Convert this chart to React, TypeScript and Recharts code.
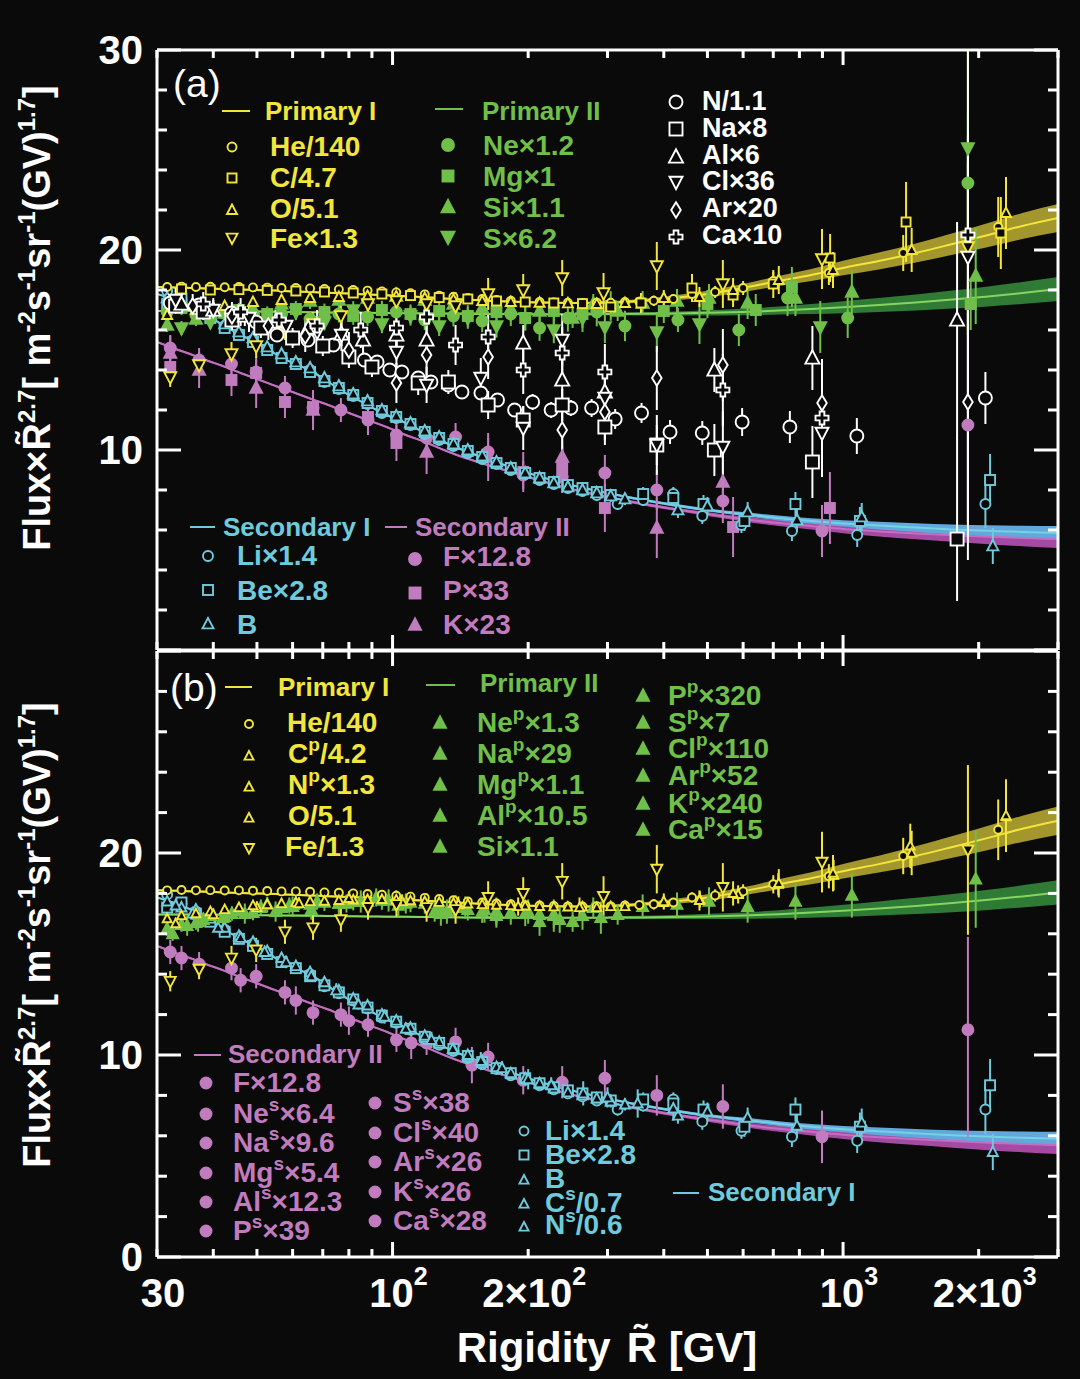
import React from 'react';
import { ComposedChart, XAxis, YAxis, Line, Area, Scatter, ErrorBar } from 'recharts';

const BG = '#0a0a0a';
const YEL = '#f2e63c';
const GRN = '#6fbf48';
const CYN = '#6fcbdc';
const MAG = '#c07cbf';
const WHT = '#ffffff';
const FONT = "'Liberation Sans', Arial, Helvetica, sans-serif";

// ---------- axes ----------
const X_DOMAIN = [30, 3000];
const X_TICKS = [30, 40, 50, 60, 70, 80, 90, 100, 200, 300, 400, 500, 600, 700, 800, 900, 1000, 2000, 3000];
const X_LABELS: Record<number, [string, string]> = {
  30: ['30', ''],
  100: ['10', '2'],
  200: ['2\u00d710', '2'],
  1000: ['10', '3'],
  2000: ['2\u00d710', '3'],
};
const Y_TICKS = [0, 2, 4, 6, 8, 10, 12, 14, 16, 18, 20, 22, 24, 26, 28, 30];
const Y_LABELS_A = [10, 20, 30];
const Y_LABELS_B = [0, 10, 20];

// ---------- fitted curves (rigidity rows) ----------
const LINE_R = [30, 33, 36, 39, 42, 46, 50, 55, 60, 66, 72, 80, 88, 97, 107, 118, 130, 145, 160, 180, 200, 230, 260, 300, 350, 420, 500, 600, 720, 850, 1000, 1200, 1450, 1750, 2100, 2500, 3000];
const P1 = [18.15, 18.13, 18.1, 18.08, 18.05, 18.02, 18.0, 17.97, 17.93, 17.9, 17.86, 17.82, 17.78, 17.74, 17.69, 17.64, 17.58, 17.52, 17.47, 17.42, 17.39, 17.36, 17.35, 17.37, 17.45, 17.6, 17.8, 18.1, 18.45, 18.75, 19.1, 19.45, 19.85, 20.3, 20.75, 21.2, 21.6];
const P1_W = [0.05, 0.05, 0.05, 0.05, 0.05, 0.05, 0.05, 0.05, 0.05, 0.05, 0.05, 0.05, 0.05, 0.05, 0.05, 0.05, 0.05, 0.05, 0.05, 0.05, 0.05, 0.05, 0.05, 0.07, 0.09, 0.12, 0.16, 0.2, 0.25, 0.3, 0.36, 0.42, 0.48, 0.54, 0.6, 0.65, 0.7];
const P2 = [16.95, 16.95, 16.95, 16.95, 16.94, 16.93, 16.92, 16.91, 16.9, 16.89, 16.88, 16.87, 16.86, 16.85, 16.84, 16.83, 16.82, 16.81, 16.8, 16.8, 16.79, 16.79, 16.79, 16.8, 16.81, 16.83, 16.86, 16.9, 16.97, 17.05, 17.14, 17.25, 17.38, 17.52, 17.68, 17.85, 18.05];
const P2_W = [0.05, 0.05, 0.05, 0.05, 0.05, 0.05, 0.05, 0.05, 0.05, 0.05, 0.05, 0.05, 0.05, 0.05, 0.05, 0.05, 0.05, 0.05, 0.05, 0.05, 0.05, 0.05, 0.05, 0.06, 0.08, 0.1, 0.13, 0.16, 0.2, 0.25, 0.3, 0.35, 0.4, 0.45, 0.5, 0.55, 0.6];
const S1 = [17.8, 17.5, 17.15, 16.7, 16.25, 15.75, 15.35, 14.8, 14.35, 13.95, 13.4, 12.75, 12.25, 11.75, 11.35, 10.85, 10.4, 9.95, 9.6, 9.2, 8.85, 8.45, 8.15, 7.85, 7.55, 7.25, 7.0, 6.8, 6.6, 6.45, 6.33, 6.22, 6.12, 6.03, 5.96, 5.9, 5.85];
const S1_W = [0.04, 0.04, 0.04, 0.04, 0.04, 0.04, 0.04, 0.04, 0.04, 0.04, 0.04, 0.04, 0.04, 0.04, 0.04, 0.04, 0.04, 0.04, 0.04, 0.04, 0.04, 0.04, 0.04, 0.05, 0.06, 0.07, 0.08, 0.1, 0.12, 0.14, 0.16, 0.19, 0.22, 0.25, 0.28, 0.31, 0.35];
const S2 = [15.4, 15.05, 14.75, 14.45, 14.2, 13.85, 13.55, 13.2, 12.9, 12.55, 12.25, 11.85, 11.5, 11.15, 10.75, 10.4, 10.0, 9.6, 9.3, 8.95, 8.65, 8.25, 7.95, 7.65, 7.35, 7.05, 6.8, 6.55, 6.35, 6.2, 6.05, 5.93, 5.83, 5.74, 5.66, 5.6, 5.55];
const S2_W = [0.05, 0.05, 0.05, 0.05, 0.05, 0.05, 0.05, 0.05, 0.05, 0.05, 0.05, 0.05, 0.05, 0.05, 0.05, 0.05, 0.05, 0.05, 0.05, 0.05, 0.05, 0.05, 0.05, 0.06, 0.07, 0.08, 0.1, 0.12, 0.15, 0.18, 0.21, 0.25, 0.29, 0.33, 0.37, 0.41, 0.45];

// ---------- measured points: [rigidity, value, error or [lower, upper]] ----------
type Err = number | [number, number];
type Tri = [number, number, Err];
const BINS = [31.6, 34.0, 36.6, 39.4, 42.4, 45.6, 49.0, 52.7, 56.7, 61.0, 65.6, 70.6, 76.0, 81.8, 88.0, 94.7, 101.9, 109.6, 117.9, 126.9, 136.5, 146.9, 158.1, 170.1, 183, 197, 212, 228, 245, 264, 284, 305, 328, 353, 380];
const E_S = [0.1, 0.1, 0.1, 0.1, 0.1, 0.1, 0.1, 0.1, 0.1, 0.1, 0.1, 0.1, 0.1, 0.1, 0.1, 0.1, 0.12, 0.12, 0.12, 0.12, 0.12, 0.12, 0.14, 0.14, 0.15, 0.15, 0.16, 0.17, 0.18, 0.19, 0.2, 0.21, 0.22, 0.24, 0.26];
const E_C = [0.15, 0.15, 0.15, 0.15, 0.15, 0.15, 0.15, 0.15, 0.15, 0.15, 0.15, 0.15, 0.18, 0.18, 0.18, 0.18, 0.18, 0.18, 0.18, 0.18, 0.22, 0.22, 0.22, 0.22, 0.22, 0.22, 0.26, 0.26, 0.26, 0.26, 0.26, 0.3, 0.3, 0.3, 0.3];
const E_G = [0.35, 0.35, 0.35, 0.35, 0.35, 0.35, 0.38, 0.38, 0.38, 0.4, 0.4, 0.42, 0.42, 0.44, 0.44, 0.46, 0.46, 0.48, 0.5, 0.5, 0.52, 0.54, 0.56, 0.58, 0.6, 0.62, 0.64, 0.66, 0.68, 0.7, 0.72, 0.74, 0.76, 0.78, 0.8];
const _ = null;

// Primary I
const HE_V = [18.15, 18.17, 18.15, 18.16, 18.14, 18.15, 18.13, 18.12, 18.1, 18.1, 18.08, 18.05, 18.03, 18.0, 17.97, 17.93, 17.88, 17.84, 17.78, 17.72, 17.66, 17.6, 17.55, 17.5, 17.46, 17.42, 17.4, 17.38, 17.36, 17.35, 17.37, 17.36, 17.4, 17.42, 17.46];
const HE_HI: Tri[] = [[420, 17.55, 0.2], [462, 17.8, 0.25], [520, 17.9, 0.3], [600, 18.1, 0.35], [700, 18.45, 0.45], [930, 18.85, 0.6], [1360, 19.85, 0.9], [2210, 21.15, 1.5]];
const C_V = [_, 18.05, _, 18.0, _, 18.02, _, 17.98, _, 17.95, _, 17.9, _, 17.85, _, 17.8, _, 17.72, _, 17.62, _, 17.55, _, 17.45, _, 17.4, _, 17.35, _, 17.32, _, 17.15, _, _, _];
const C_HI: Tri[] = [[356, 17.35, 0.5], [462, 18.1, 0.7], [570, 17.75, 0.6], [700, 18.3, 0.7], [936, 19.6, 1.2], [1380, 21.4, 2.0], [2240, 20.85, 1.8]];
const O_V = [16.75, _, 17.0, _, 17.2, _, 17.4, _, 17.5, _, 17.6, _, 17.65, _, 17.7, _, 17.68, _, 17.6, _, 17.52, _, 17.45, _, 17.4, _, 17.36, _, 17.33, _, 17.3, _, 17.35, _, _];
const O_HI: Tri[] = [[400, 17.6, 0.4], [480, 17.65, 0.5], [570, 18.0, 0.6], [720, 18.5, 0.7], [950, 19.0, 0.9], [1420, 20.0, 1.1], [2300, 21.85, 1.8]];
const FE: Tri[] = [[32.1, 13.65, 0.5], [37.2, 14.25, 0.5], [43.9, 14.8, 0.6], [49.8, 15.2, 0.6], [57.7, 16.1, 0.6], [66.6, 16.3, 0.6], [76.8, 16.7, 0.6], [88.2, 17.3, 0.6], [102, 17.45, 0.6], [119, 17.3, 0.7], [138, 17.2, 0.7], [163, 17.8, 0.8], [195, 18.0, 0.8], [238, 18.6, 0.9], [294, 17.85, 1.0], [386, 19.2, 1.2], [541, 18.3, 1.2], [898, 19.55, 1.5], [1893, 20.15, 4.2]];
const CP_V = [_, 16.9, _, 17.1, _, 17.3, _, 17.45, _, 17.55, _, 17.62, _, 17.68, _, 17.7, _, 17.64, _, 17.56, _, 17.48, _, 17.42, _, 17.38, _, 17.34, _, 17.33, _, 17.35, _, _, _];
const CP_HI: Tri[] = [[400, 17.55, 0.3], [481, 17.7, 0.4], [585, 17.95, 0.45], [718, 18.45, 0.55], [953, 18.9, 0.75], [1410, 20.35, 1.1], [2300, 21.8, 1.5]];
const NP_B: Tri[] = [[33, 16.5, 0.3], [40, 16.95, 0.3], [50, 17.3, 0.3], [62, 17.5, 0.3], [80, 17.75, 0.35], [105, 17.6, 0.35], [140, 17.45, 0.4], [190, 17.35, 0.45], [260, 17.3, 0.5]];

// Primary II
const NE_V = [16.9, _, 16.75, _, 16.85, _, 16.6, _, 16.8, _, 16.55, _, 16.8, _, 16.65, _, 16.9, _, 16.5, _, 16.7, _, 16.45, _, 16.8, _, 16.1, _, 16.6, _, 16.9, _, 16.2, _, _];
const NE_HI: Tri[] = [[430, 16.5, 0.6], [587, 16.0, 0.8], [753, 17.6, 0.9], [1024, 16.6, 1.0], [1893, 23.35, 3.5]];
const MG_V = [_, 17.1, _, 16.9, _, 17.0, _, 16.8, _, 17.05, _, 16.9, _, 16.7, _, 17.0, _, 16.8, _, 16.95, _, 16.7, _, 16.9, _, 16.6, _, 16.95, _, 16.8, _, 17.2, _, _, _];
const MG_HI: Tri[] = [[400, 16.95, 0.6], [500, 17.3, 0.7], [640, 17.0, 0.8], [770, 18.15, 1.0], [1920, 17.3, 1.3]];
const SI_V = [16.25, _, 16.55, _, 16.85, _, 17.05, _, 17.3, _, 17.45, _, 17.5, _, 17.6, _, 17.7, _, 17.5, _, 17.3, _, 17.1, _, 17.05, _, 16.95, _, _, _, _, _, _, _, _];
const SI_HI: Tri[] = [[251, 16.6, 0.5], [279, 17.3, 0.5], [316, 16.95, 0.5], [359, 17.35, 0.6], [428, 17.45, 0.6], [504, 17.6, 0.7], [614, 17.35, 0.8], [784, 17.6, 0.9], [1046, 17.9, 1.1], [1970, 18.7, 2.4]];
const S_V = [_, 16.1, _, 16.4, _, 16.8, _, 16.3, _, 16.9, _, 16.4, _, 17.0, _, 16.3, _, 16.7, _, 16.2, _, 16.6, _, 16.2, _, 16.6, _, 16.0, _, 16.6, _, _, _, _, _];
const S_HI: Tri[] = [[296, 16.15, 0.8], [386, 15.9, 1.0], [480, 16.3, 1.0], [890, 16.15, 1.3], [1893, 25.1, [4.8, 4.8]]];
const NEP_V = [_, 16.45, _, 16.9, _, 17.2, _, 17.45, _, 17.5, _, 17.55, _, 17.6, _, 17.65, _, 17.55, _, 17.4, _, 17.2, _, 17.1, _, 17.0, _, 16.95, _, 16.9, _, _, _, _, _];
const MGP_B: Tri[] = [[32.5, 16.0, 0.35], [38, 16.7, 0.35], [44, 17.0, 0.35], [51, 17.3, 0.4], [59, 17.4, 0.4], [68, 17.6, 0.4], [79, 17.5, 0.45], [92, 17.8, 0.45], [107, 17.5, 0.5], [124, 17.1, 0.5], [145, 17.3, 0.55], [170, 16.9, 0.6], [200, 17.1, 0.6], [235, 16.7, 0.65]];
const ALP_B: Tri[] = [[35, 16.4, 0.5], [42, 16.8, 0.5], [55, 17.1, 0.5], [66, 17.2, 0.5], [85, 17.6, 0.55], [103, 17.4, 0.6], [132, 17.1, 0.6], [160, 17.2, 0.65], [212, 16.6, 0.7], [290, 16.8, 0.8]];
const SP_B: Tri[] = [[37, 16.6, 0.5], [47, 17.0, 0.5], [60, 17.35, 0.5], [76, 17.5, 0.55], [98, 17.65, 0.55], [128, 17.0, 0.6], [170, 17.1, 0.7], [228, 16.9, 0.8]];

// mixed (white)
const N_A: Tri[] = [[32.1, 17.35, 0.25], [37.2, 17.25, 0.25], [43.9, 16.85, 0.25], [49.8, 16.4, 0.25], [55.4, 15.75, 0.25], [60.2, 15.6, 0.25], [64.9, 15.5, 0.25], [73.9, 15.25, 0.3], [86.6, 14.5, 0.3], [92.4, 14.4, 0.3], [98.6, 14.0, 0.3], [104.9, 13.9, 0.3], [114, 13.6, 0.3], [121.7, 13.4, 0.3], [133, 13.25, 0.3], [142.6, 12.9, 0.3], [157.1, 12.85, 0.35], [171, 12.5, 0.35], [186.6, 12.0, 0.35], [204.6, 12.4, 0.4], [224.9, 12.0, 0.4], [248.8, 12.1, 0.4], [276.6, 12.1, 0.45], [312, 11.55, 0.5], [357, 11.85, 0.5], [413, 10.9, 0.6], [487, 10.85, 0.6], [597, 11.4, 0.7], [762, 11.15, 0.8], [1073, 10.7, 0.9], [2070, 12.6, 1.3]];
const NA_A: Tri[] = [[33, 17.2, 0.4], [38, 16.9, 0.4], [44, 16.5, 0.45], [51, 16.1, 0.5], [60, 15.6, 0.5], [70, 15.2, 0.5], [80, 14.65, 0.5], [90, 14.15, 0.5], [114, 13.35, 0.6], [133, 13.4, 0.6], [163, 12.25, 0.7], [195, 11.5, 0.7], [238, 12.25, 0.8], [296, 11.15, 0.9], [386, 10.25, 1.0], [518, 10.0, 1.3], [855, 9.4, 1.8], [1791, 5.55, [3.1, 5.0]]];
const AL_A: Tri[] = [[34, 17.3, 0.5], [40, 17.0, 0.5], [47, 16.7, 0.5], [55, 16.4, 0.6], [65, 16.1, 0.6], [77, 15.8, 0.6], [86, 15.5, 0.7], [102, 15.75, 0.7], [119, 15.5, 0.8], [195, 15.35, 0.9], [238, 13.5, 1.0], [296, 12.9, 1.1], [518, 14.0, 1.1], [855, 14.6, 1.6], [1791, 16.5, [6.0, 4.9]]];
const CL_A: Tri[] = [[33, 17.5, 0.6], [40, 17.0, 0.6], [48, 16.6, 0.7], [58, 16.2, 0.7], [68, 15.9, 0.8], [77, 15.75, 0.8], [102, 14.9, 0.9], [119, 13.25, 0.9], [157, 13.6, 1.0], [195, 11.1, 1.1], [238, 15.5, 1.3], [296, 12.6, 1.4], [386, 10.25, 1.5], [541, 10.15, 1.8], [898, 10.85, 2.2], [1893, 19.65, [15.15, 10.3]]];
const AR_A: Tri[] = [[36, 17.2, 0.6], [44, 16.7, 0.7], [53, 16.2, 0.7], [64, 15.7, 0.8], [80, 15.0, 0.9], [102, 13.35, 1.0], [119, 14.75, 1.0], [163, 14.65, 1.1], [238, 11.0, 1.2], [296, 11.9, 1.4], [386, 13.6, 1.6], [541, 14.25, 1.8], [898, 12.35, 2.2], [1893, 12.4, 6]];
const CA_A: Tri[] = [[38, 17.3, 0.6], [46, 16.9, 0.7], [56, 16.5, 0.7], [68, 16.2, 0.8], [85, 16.0, 0.9], [102, 16.1, 0.9], [119, 16.65, 1.0], [138, 15.25, 1.0], [163, 15.65, 1.1], [195, 14.0, 1.2], [238, 14.85, 1.3], [296, 13.9, 1.4], [541, 13.0, 1.8], [898, 11.6, 2.2], [1893, 20.75, 5]];

// Secondary I (cyan)
const LI_V = [17.95, 17.5, 17.1, 16.7, 16.2, 15.8, 15.5, 15.05, 14.65, 14.3, 14.0, 13.4, 13.05, 12.7, 12.3, 11.85, 11.6, 11.25, 10.8, 10.5, 10.2, 9.85, 9.55, 9.3, 9.0, 8.8, 8.5, 8.3, 8.1, 7.95, 7.75, _, _, _, _];
const LI_HI: Tri[] = [[316, 7.3, 0.3], [360, 7.5, 0.3], [420, 7.8, 0.35], [487, 6.7, 0.4], [595, 6.25, 0.4], [770, 5.95, 0.5], [1075, 5.75, 0.6], [2070, 7.3, 1.2]];
const BE_V = [17.3, 17.55, 17.0, 16.6, 16.1, 15.75, 15.4, 15.0, 14.6, 14.3, 13.9, 13.45, 13.1, 12.75, 12.35, 11.95, 11.65, 11.3, 10.9, 10.6, 10.3, 9.95, 9.65, 9.35, 9.1, 8.85, 8.6, 8.4, 8.25, 8.1, 7.9, 7.75, _, _, _];
const BE_HI: Tri[] = [[360, 7.8, 0.35], [420, 7.6, 0.4], [490, 7.3, 0.45], [604, 6.45, 0.5], [784, 7.3, 0.6], [1090, 6.45, 0.7], [2120, 8.5, 1.3]];
const B_V = [17.6, 17.3, 17.2, 16.75, 16.3, 15.9, 15.6, 15.15, 14.8, 14.4, 14.1, 13.6, 13.2, 12.8, 12.45, 12.0, 11.7, 11.35, 10.95, 10.65, 10.3, 10.0, 9.7, 9.4, 9.1, 8.85, 8.6, 8.35, 8.15, 8.0, 7.85, 7.7, 7.55, _, _];
const B_HI: Tri[] = [[430, 7.0, 0.4], [500, 7.2, 0.45], [614, 6.9, 0.5], [790, 6.5, 0.6], [1100, 6.65, 0.7], [2150, 5.2, 0.9]];
const CS_B: Tri[] = [[33, 17.4, 0.2], [41, 16.3, 0.2], [52, 15.1, 0.2], [66, 13.9, 0.25], [84, 12.5, 0.25], [107, 11.3, 0.3], [136, 10.3, 0.3], [175, 9.35, 0.35], [225, 8.5, 0.4], [300, 7.9, 0.5], [420, 7.35, 0.6]];
const NS_B: Tri[] = [[36, 17.0, 0.3], [46, 15.8, 0.3], [58, 14.6, 0.3], [75, 13.2, 0.35], [96, 11.9, 0.35], [122, 10.75, 0.4], [157, 9.7, 0.45], [200, 8.8, 0.5], [265, 8.1, 0.6], [350, 7.6, 0.7]];

// Secondary II (magenta)
const F_ALL: Tri[] = [[32.1, 15.1, 0.6], [37.2, 14.5, 0.6], [43.9, 14.3, 0.6], [49.8, 13.9, 0.6], [57.7, 13.1, 0.6], [66.6, 12.1, 0.6], [76.8, 12.0, 0.6], [88.2, 11.5, 0.6], [102, 10.75, 0.6], [119, 10.6, 0.6], [138, 10.65, 0.7], [163, 9.9, 0.7], [195, 8.75, 0.7], [238, 8.65, 0.8], [296, 8.85, 0.9], [386, 8.0, 1.0], [541, 7.45, 1.1], [898, 5.95, 1.3], [1893, 11.25, [5.3, 4.6]]];
const P_A: Tri[] = [[32.1, 14.15, 0.8], [43.9, 13.5, 0.8], [49.8, 13.85, 0.8], [57.7, 12.4, 0.8], [66.6, 12.15, 0.8], [88.2, 11.65, 0.9], [102, 10.35, 0.9], [195, 8.9, 1.0], [238, 9.1, 1.1], [296, 7.1, 1.2], [570, 6.15, 1.5], [935, 7.1, 1.8]];
const K_A: Tri[] = [[32.1, 14.85, 0.9], [37.2, 14.0, 0.9], [49.8, 13.1, 1.0], [66.6, 12.0, 1.0], [119, 9.9, 1.1], [163, 9.65, 1.2], [238, 9.65, 1.3], [386, 6.1, 1.5], [541, 8.4, 1.7]];
const NES_B: Tri[] = [[34, 14.8, 0.6], [46, 13.7, 0.6], [61, 12.7, 0.7], [80, 11.7, 0.7], [110, 10.6, 0.8], [150, 9.5, 0.9]];

// ---------- tables built from the arrays ----------
const LINE_TABLE = LINE_R.map((x, i) => ({
  x,
  p1: P1[i], p1b: [P1[i] - P1_W[i], P1[i] + P1_W[i]],
  p2: P2[i], p2b: [P2[i] - P2_W[i], P2[i] + P2_W[i]],
  s1: S1[i], s1b: [S1[i] - S1_W[i], S1[i] + S1_W[i]],
  s2: S2[i], s2b: [S2[i] - S2_W[i], S2[i] + S2_W[i]],
}));

const binned = (vals: (number | null)[], errs: number[]): Tri[] =>
  vals.map((v, i) => (v == null ? null : ([BINS[i], v, errs[i]] as Tri))).filter((r) => r !== null) as Tri[];
const pts = (rows: Tri[]) => rows.map(([x, y, e]) => ({ x, y, e }));

const HE = [...binned(HE_V, E_S), ...HE_HI];
const C = [...binned(C_V, E_S), ...C_HI];
const O = [...binned(O_V, E_S), ...O_HI];
const CP = [...binned(CP_V, E_S), ...CP_HI];
const NE = [...binned(NE_V, E_G), ...NE_HI];
const MG = [...binned(MG_V, E_G), ...MG_HI];
const SI = [...binned(SI_V, E_G), ...SI_HI];
const S = [...binned(S_V, E_G), ...S_HI];
const NEP = binned(NEP_V, E_G);
const LI = [...binned(LI_V, E_C), ...LI_HI];
const BE = [...binned(BE_V, E_C), ...BE_HI];
const B = [...binned(B_V, E_C), ...B_HI];

type Cfg = { d: Tri[]; k: string; c: string; s: number; f: boolean };
const SERIES_A: Cfg[] = [
  { d: F_ALL, k: 'circle', c: MAG, s: 11, f: true },
  { d: P_A, k: 'square', c: MAG, s: 10, f: true },
  { d: K_A, k: 'tri', c: MAG, s: 12, f: true },
  { d: LI, k: 'circle', c: CYN, s: 10, f: false },
  { d: BE, k: 'square', c: CYN, s: 10, f: false },
  { d: B, k: 'tri', c: CYN, s: 11, f: false },
  { d: NE, k: 'circle', c: GRN, s: 11, f: true },
  { d: MG, k: 'square', c: GRN, s: 10, f: true },
  { d: SI, k: 'tri', c: GRN, s: 12, f: true },
  { d: S, k: 'itri', c: GRN, s: 12, f: true },
  { d: HE, k: 'circle', c: YEL, s: 8, f: false },
  { d: C, k: 'square', c: YEL, s: 9, f: false },
  { d: O, k: 'tri', c: YEL, s: 10, f: false },
  { d: FE, k: 'itri', c: YEL, s: 12, f: false },
  { d: N_A, k: 'circle', c: WHT, s: 13, f: false },
  { d: NA_A, k: 'square', c: WHT, s: 13, f: false },
  { d: AL_A, k: 'tri', c: WHT, s: 14, f: false },
  { d: CL_A, k: 'itri', c: WHT, s: 13, f: false },
  { d: AR_A, k: 'diamond', c: WHT, s: 12, f: false },
  { d: CA_A, k: 'cross', c: WHT, s: 13, f: false },
];
const SERIES_B: Cfg[] = [
  { d: F_ALL, k: 'circle', c: MAG, s: 11, f: true },
  { d: NES_B, k: 'circle', c: MAG, s: 11, f: true },
  { d: LI, k: 'circle', c: CYN, s: 10, f: false },
  { d: BE, k: 'square', c: CYN, s: 10, f: false },
  { d: B, k: 'tri', c: CYN, s: 10, f: false },
  { d: CS_B, k: 'tri', c: CYN, s: 10, f: false },
  { d: NS_B, k: 'tri', c: CYN, s: 10, f: false },
  { d: NEP, k: 'tri', c: GRN, s: 11, f: true },
  { d: MGP_B, k: 'tri', c: GRN, s: 11, f: true },
  { d: ALP_B, k: 'tri', c: GRN, s: 11, f: true },
  { d: SP_B, k: 'tri', c: GRN, s: 11, f: true },
  { d: SI, k: 'tri', c: GRN, s: 11, f: true },
  { d: HE, k: 'circle', c: YEL, s: 8, f: false },
  { d: CP, k: 'tri', c: YEL, s: 9, f: false },
  { d: NP_B, k: 'tri', c: YEL, s: 9, f: false },
  { d: O, k: 'tri', c: YEL, s: 9, f: false },
  { d: FE, k: 'itri', c: YEL, s: 11, f: false },
];

// ---------- symbols ----------
function symbol(kind: string, cx: number, cy: number, size: number, color: string, filled: boolean) {
  const fill = filled ? color : BG;
  const sw = 1.9;
  const h = size / 2;
  switch (kind) {
    case 'circle':
      return <circle cx={cx} cy={cy} r={h} fill={fill} stroke={color} strokeWidth={sw} />;
    case 'square':
      return <rect x={cx - h} y={cy - h} width={size} height={size} fill={fill} stroke={color} strokeWidth={sw} />;
    case 'tri':
      return <polygon points={`${cx},${cy - size * 0.55} ${cx - h},${cy + size * 0.4} ${cx + h},${cy + size * 0.4}`} fill={fill} stroke={color} strokeWidth={sw} />;
    case 'itri':
      return <polygon points={`${cx},${cy + size * 0.55} ${cx - h},${cy - size * 0.4} ${cx + h},${cy - size * 0.4}`} fill={fill} stroke={color} strokeWidth={sw} />;
    case 'diamond':
      return <polygon points={`${cx},${cy - size * 0.65} ${cx + size * 0.4},${cy} ${cx},${cy + size * 0.65} ${cx - size * 0.4},${cy}`} fill={fill} stroke={color} strokeWidth={sw} />;
    case 'cross': {
      const a = size * 0.18, L = size * 0.5;
      const d = `M${cx - a},${cy - L}H${cx + a}V${cy - a}H${cx + L}V${cy + a}H${cx + a}V${cy + L}H${cx - a}V${cy + a}H${cx - L}V${cy - a}H${cx - a}Z`;
      return <path d={d} fill={fill} stroke={color} strokeWidth={sw} />;
    }
    default:
      return <g />;
  }
}
const shapeOf = (c: Cfg) => (p: any) => {
  if (p == null || p.cx == null || p.cy == null || isNaN(p.cx) || isNaN(p.cy)) return <g />;
  return symbol(c.k, p.cx, p.cy, c.s, c.c, c.f);
};

// ---------- ticks ----------
const BottomTick = (labels: boolean) => (p: any) => {
  const v = p.payload.value;
  const major = v === 100 || v === 1000;
  const len = major ? 15 : 8;
  const lab = labels ? X_LABELS[v] : undefined;
  return (
    <g>
      <line x1={p.x} x2={p.x} y1={p.y} y2={p.y - len} stroke={WHT} strokeWidth={3} />
      {lab && (
        <text x={p.x + 6} y={p.y + 50} textAnchor="middle" fill={WHT} fontSize={40} fontWeight="bold" fontFamily={FONT}>
          {lab[0]}
          {lab[1] ? <tspan dy={-22} fontSize={25}>{lab[1]}</tspan> : null}
        </text>
      )}
    </g>
  );
};
const TopTick = (p: any) => {
  const v = p.payload.value;
  const len = v === 100 || v === 1000 ? 15 : 8;
  return <line x1={p.x} x2={p.x} y1={p.y} y2={p.y + len} stroke={WHT} strokeWidth={3} />;
};
const LeftTick = (labels: number[]) => (p: any) => {
  const v = p.payload.value;
  const len = v % 10 === 0 ? 24 : 10;
  return (
    <g>
      <line x1={p.x} x2={p.x + len} y1={p.y} y2={p.y} stroke={WHT} strokeWidth={3} />
      {labels.includes(v) && (
        <text x={p.x - 14} y={p.y + 14} textAnchor="end" fill={WHT} fontSize={40} fontWeight="bold" fontFamily={FONT}>
          {v}
        </text>
      )}
    </g>
  );
};
const RightTick = (p: any) => {
  const v = p.payload.value;
  const len = v % 10 === 0 ? 24 : 10;
  return <line x1={p.x} x2={p.x - len} y1={p.y} y2={p.y} stroke={WHT} strokeWidth={3} />;
};

const axisLine = { stroke: WHT, strokeWidth: 3 };

function Panel({ series, top, height, mTop, mBottom, xLabels, yLabels }: any) {
  return (
    <div style={{ position: 'absolute', left: 0, top, width: 1080, height }}>
      <ComposedChart width={1080} height={height} data={LINE_TABLE} margin={{ top: mTop, right: 21, bottom: mBottom, left: 156 }}>
        <Area xAxisId="b" yAxisId="l" dataKey="s2b" type="monotone" stroke="none" fill="#a54aa2" fillOpacity={1} isAnimationActive={false} />
        <Area xAxisId="b" yAxisId="l" dataKey="s1b" type="monotone" stroke="none" fill="#63a8dc" fillOpacity={1} isAnimationActive={false} />
        <Area xAxisId="b" yAxisId="l" dataKey="p2b" type="monotone" stroke="none" fill="#2f7a35" fillOpacity={1} isAnimationActive={false} />
        <Area xAxisId="b" yAxisId="l" dataKey="p1b" type="monotone" stroke="none" fill="#a3962c" fillOpacity={1} isAnimationActive={false} />
        <Line xAxisId="b" yAxisId="l" dataKey="s2" type="monotone" stroke="#c46ec2" strokeWidth={2} dot={false} activeDot={false} isAnimationActive={false} />
        <Line xAxisId="b" yAxisId="l" dataKey="s1" type="monotone" stroke="#74d2e2" strokeWidth={2} dot={false} activeDot={false} isAnimationActive={false} />
        <Line xAxisId="b" yAxisId="l" dataKey="p2" type="monotone" stroke="#86d460" strokeWidth={2} dot={false} activeDot={false} isAnimationActive={false} />
        <Line xAxisId="b" yAxisId="l" dataKey="p1" type="monotone" stroke={YEL} strokeWidth={2} dot={false} activeDot={false} isAnimationActive={false} />
        {series.map((c: Cfg, i: number) => (
          <Scatter key={i} xAxisId="b" yAxisId="l" data={pts(c.d)} dataKey="y" isAnimationActive={false} shape={shapeOf(c)}>
            <ErrorBar dataKey="e" direction="y" width={0} stroke={c.c} strokeWidth={2} isAnimationActive={false} />
          </Scatter>
        ))}
        <XAxis xAxisId="b" dataKey="x" type="number" scale="log" domain={X_DOMAIN} allowDataOverflow ticks={X_TICKS} interval={0} height={1} tickSize={0} tickMargin={0} tickLine={false} axisLine={axisLine} tick={BottomTick(xLabels)} />
        <XAxis xAxisId="t" orientation="top" dataKey="x" type="number" scale="log" domain={X_DOMAIN} allowDataOverflow ticks={X_TICKS} interval={0} height={1} tickSize={0} tickMargin={0} tickLine={false} axisLine={axisLine} tick={TopTick} />
        <YAxis yAxisId="l" type="number" domain={[0, 30]} allowDataOverflow ticks={Y_TICKS} interval={0} width={1} tickSize={0} tickMargin={0} tickLine={false} axisLine={axisLine} tick={LeftTick(yLabels)} />
        <YAxis yAxisId="r" orientation="right" type="number" domain={[0, 30]} allowDataOverflow ticks={Y_TICKS} interval={0} width={1} tickSize={0} tickMargin={0} tickLine={false} axisLine={axisLine} tick={RightTick} />
      </ComposedChart>
    </div>
  );
}

// ---------- legends / titles ----------
function Rich({ s, size }: { s: string; size: number }) {
  const parts = s.split(/(\^\{[^}]*\})/).filter((p) => p.length > 0);
  let raised = false;
  return (
    <>
      {parts.map((p, i) => {
        const m = p.match(/^\^\{([^}]*)\}$/);
        if (m) {
          raised = true;
          return <tspan key={i} dy={-size * 0.42} fontSize={size * 0.68}>{m[1]}</tspan>;
        }
        const dy = raised ? size * 0.42 : 0;
        raised = false;
        return <tspan key={i} dy={dy} fontSize={size}>{p}</tspan>;
      })}
    </>
  );
}

type Leg = { t: string; c: string; tx: number; ty: number; fs?: number; k?: string; sx?: number; sy?: number; sz?: number; f?: boolean; line?: [number, number, number] };
const LEGEND: Leg[] = [
  // panel a, Primary I
  { t: 'Primary I', c: YEL, tx: 265, ty: 120, fs: 26, line: [222, 250, 111] },
  { t: 'He/140', c: YEL, tx: 270, ty: 156, k: 'circle', sx: 232, sy: 147, sz: 9 },
  { t: 'C/4.7', c: YEL, tx: 270, ty: 187, k: 'square', sx: 232, sy: 178, sz: 9 },
  { t: 'O/5.1', c: YEL, tx: 270, ty: 218, k: 'tri', sx: 232, sy: 210, sz: 10 },
  { t: 'Fe\u00d71.3', c: YEL, tx: 270, ty: 248, k: 'itri', sx: 232, sy: 238, sz: 11 },
  // Primary II
  { t: 'Primary II', c: GRN, tx: 482, ty: 120, fs: 26, line: [435, 463, 109] },
  { t: 'Ne\u00d71.2', c: GRN, tx: 483, ty: 155, k: 'circle', sx: 448, sy: 145, sz: 12, f: true },
  { t: 'Mg\u00d71', c: GRN, tx: 483, ty: 186, k: 'square', sx: 448, sy: 176, sz: 11, f: true },
  { t: 'Si\u00d71.1', c: GRN, tx: 483, ty: 217, k: 'tri', sx: 448, sy: 207, sz: 13, f: true },
  { t: 'S\u00d76.2', c: GRN, tx: 483, ty: 248, k: 'itri', sx: 448, sy: 237, sz: 13, f: true },
  // white
  { t: 'N/1.1', c: WHT, tx: 702, ty: 110, fs: 27, k: 'circle', sx: 676, sy: 102, sz: 13 },
  { t: 'Na\u00d78', c: WHT, tx: 702, ty: 137, fs: 27, k: 'square', sx: 676, sy: 129, sz: 13 },
  { t: 'Al\u00d76', c: WHT, tx: 702, ty: 164, fs: 27, k: 'tri', sx: 676, sy: 157, sz: 14 },
  { t: 'Cl\u00d736', c: WHT, tx: 702, ty: 190, fs: 27, k: 'itri', sx: 676, sy: 182, sz: 13 },
  { t: 'Ar\u00d720', c: WHT, tx: 702, ty: 217, fs: 27, k: 'diamond', sx: 676, sy: 210, sz: 12 },
  { t: 'Ca\u00d710', c: WHT, tx: 702, ty: 244, fs: 27, k: 'cross', sx: 676, sy: 237, sz: 13 },
  // Secondary I / II panel a
  { t: 'Secondary I', c: CYN, tx: 223, ty: 536, fs: 26, line: [190, 215, 527] },
  { t: 'Li\u00d71.4', c: CYN, tx: 237, ty: 565, k: 'circle', sx: 208, sy: 556, sz: 10 },
  { t: 'Be\u00d72.8', c: CYN, tx: 237, ty: 600, k: 'square', sx: 208, sy: 590, sz: 10 },
  { t: 'B', c: CYN, tx: 237, ty: 634, k: 'tri', sx: 208, sy: 624, sz: 11 },
  { t: 'Secondary II', c: MAG, tx: 415, ty: 536, fs: 26, line: [385, 407, 527] },
  { t: 'F\u00d712.8', c: MAG, tx: 443, ty: 566, k: 'circle', sx: 415, sy: 559, sz: 12, f: true },
  { t: 'P\u00d733', c: MAG, tx: 443, ty: 600, k: 'square', sx: 415, sy: 593, sz: 11, f: true },
  { t: 'K\u00d723', c: MAG, tx: 443, ty: 634, k: 'tri', sx: 415, sy: 625, sz: 12, f: true },
  // panel b, Primary I
  { t: 'Primary I', c: YEL, tx: 278, ty: 696, fs: 26, line: [225, 252, 687] },
  { t: 'He/140', c: YEL, tx: 287, ty: 732, k: 'circle', sx: 249, sy: 724, sz: 8 },
  { t: 'C^{p}/4.2', c: YEL, tx: 288, ty: 763, k: 'tri', sx: 249, sy: 756, sz: 9 },
  { t: 'N^{p}\u00d71.3', c: YEL, tx: 288, ty: 794, k: 'tri', sx: 249, sy: 787, sz: 9 },
  { t: 'O/5.1', c: YEL, tx: 288, ty: 825, k: 'tri', sx: 249, sy: 818, sz: 9 },
  { t: 'Fe/1.3', c: YEL, tx: 285, ty: 856, k: 'itri', sx: 249, sy: 848, sz: 10 },
  // Primary II
  { t: 'Primary II', c: GRN, tx: 480, ty: 692, fs: 26, line: [426, 455, 685] },
  { t: 'Ne^{p}\u00d71.3', c: GRN, tx: 477, ty: 732, k: 'tri', sx: 440, sy: 723, sz: 12, f: true },
  { t: 'Na^{p}\u00d729', c: GRN, tx: 477, ty: 763, k: 'tri', sx: 440, sy: 754, sz: 12, f: true },
  { t: 'Mg^{p}\u00d71.1', c: GRN, tx: 477, ty: 794, k: 'tri', sx: 440, sy: 785, sz: 12, f: true },
  { t: 'Al^{p}\u00d710.5', c: GRN, tx: 477, ty: 825, k: 'tri', sx: 440, sy: 816, sz: 12, f: true },
  { t: 'Si\u00d71.1', c: GRN, tx: 477, ty: 856, k: 'tri', sx: 440, sy: 847, sz: 12, f: true },
  { t: 'P^{p}\u00d7320', c: GRN, tx: 668, ty: 705, k: 'tri', sx: 643, sy: 696, sz: 12, f: true },
  { t: 'S^{p}\u00d77', c: GRN, tx: 668, ty: 732, k: 'tri', sx: 643, sy: 723, sz: 12, f: true },
  { t: 'Cl^{p}\u00d7110', c: GRN, tx: 668, ty: 758, k: 'tri', sx: 643, sy: 749, sz: 12, f: true },
  { t: 'Ar^{p}\u00d752', c: GRN, tx: 668, ty: 785, k: 'tri', sx: 643, sy: 776, sz: 12, f: true },
  { t: 'K^{p}\u00d7240', c: GRN, tx: 668, ty: 813, k: 'tri', sx: 643, sy: 804, sz: 12, f: true },
  { t: 'Ca^{p}\u00d715', c: GRN, tx: 668, ty: 839, k: 'tri', sx: 643, sy: 830, sz: 12, f: true },
  // Secondary II panel b
  { t: 'Secondary II', c: MAG, tx: 228, ty: 1063, fs: 26, line: [194, 221, 1055] },
  { t: 'F\u00d712.8', c: MAG, tx: 233, ty: 1092, k: 'circle', sx: 206, sy: 1083, sz: 11, f: true },
  { t: 'Ne^{s}\u00d76.4', c: MAG, tx: 233, ty: 1123, k: 'circle', sx: 206, sy: 1114, sz: 11, f: true },
  { t: 'Na^{s}\u00d79.6', c: MAG, tx: 233, ty: 1152, k: 'circle', sx: 206, sy: 1143, sz: 11, f: true },
  { t: 'Mg^{s}\u00d75.4', c: MAG, tx: 233, ty: 1182, k: 'circle', sx: 206, sy: 1173, sz: 11, f: true },
  { t: 'Al^{s}\u00d712.3', c: MAG, tx: 233, ty: 1211, k: 'circle', sx: 206, sy: 1202, sz: 11, f: true },
  { t: 'P^{s}\u00d739', c: MAG, tx: 233, ty: 1240, k: 'circle', sx: 206, sy: 1231, sz: 11, f: true },
  { t: 'S^{s}\u00d738', c: MAG, tx: 393, ty: 1112, k: 'circle', sx: 375, sy: 1103, sz: 11, f: true },
  { t: 'Cl^{s}\u00d740', c: MAG, tx: 393, ty: 1142, k: 'circle', sx: 375, sy: 1133, sz: 11, f: true },
  { t: 'Ar^{s}\u00d726', c: MAG, tx: 393, ty: 1171, k: 'circle', sx: 375, sy: 1162, sz: 11, f: true },
  { t: 'K^{s}\u00d726', c: MAG, tx: 393, ty: 1201, k: 'circle', sx: 375, sy: 1192, sz: 11, f: true },
  { t: 'Ca^{s}\u00d728', c: MAG, tx: 393, ty: 1230, k: 'circle', sx: 375, sy: 1221, sz: 11, f: true },
  // Secondary I panel b
  { t: 'Li\u00d71.4', c: CYN, tx: 545, ty: 1140, k: 'circle', sx: 524, sy: 1131, sz: 9 },
  { t: 'Be\u00d72.8', c: CYN, tx: 545, ty: 1164, k: 'square', sx: 524, sy: 1155, sz: 9 },
  { t: 'B', c: CYN, tx: 545, ty: 1188, k: 'tri', sx: 524, sy: 1180, sz: 9 },
  { t: 'C^{s}/0.7', c: CYN, tx: 545, ty: 1212, k: 'tri', sx: 524, sy: 1204, sz: 9 },
  { t: 'N^{s}/0.6', c: CYN, tx: 545, ty: 1234, k: 'tri', sx: 524, sy: 1227, sz: 9 },
  { t: 'Secondary I', c: CYN, tx: 708, ty: 1201, fs: 26, line: [673, 699, 1193] },
];

function YTitle({ cy }: { cy: number }) {
  const fs = 38;
  const up = -15, sf = 24;
  return (
    <text transform={`translate(50, ${cy}) rotate(-90)`} textAnchor="middle" fill={WHT} fontSize={fs} fontWeight="bold" fontFamily={FONT}>
      <tspan>Flux{'\u00d7'}R{'\u0303'}</tspan>
      <tspan dy={up} fontSize={sf}>2.7</tspan>
      <tspan dy={-up}>[ m</tspan>
      <tspan dy={up} fontSize={sf}>-2</tspan>
      <tspan dy={-up}>s</tspan>
      <tspan dy={up} fontSize={sf}>-1</tspan>
      <tspan dy={-up}>sr</tspan>
      <tspan dy={up} fontSize={sf}>-1</tspan>
      <tspan dy={-up}>(GV)</tspan>
      <tspan dy={up} fontSize={sf}>1.7</tspan>
      <tspan dy={-up}>]</tspan>
    </text>
  );
}

function Overlay() {
  return (
    <svg width={1080} height={1379} style={{ position: 'absolute', left: 0, top: 0, pointerEvents: 'none' }}>
      <text x={173} y={97} fill={WHT} fontSize={39} fontFamily={FONT}>(a)</text>
      <text x={170} y={701} fill={WHT} fontSize={39} fontFamily={FONT}>(b)</text>
      {LEGEND.map((l, i) => (
        <g key={i}>
          {l.line && <line x1={l.line[0]} x2={l.line[1]} y1={l.line[2]} y2={l.line[2]} stroke={l.c} strokeWidth={2} />}
          {l.k && symbol(l.k, l.sx as number, l.sy as number, l.sz as number, l.c, !!l.f)}
          <text x={l.tx} y={l.ty} fill={l.c} fontSize={l.fs ?? 28} fontWeight="bold" fontFamily={FONT}>
            <Rich s={l.t} size={l.fs ?? 28} />
          </text>
        </g>
      ))}
      <YTitle cy={318} />
      <YTitle cy={935} />
      <text x={607} y={1362} textAnchor="middle" fill={WHT} fontSize={42} fontWeight="bold" fontFamily={FONT}>
        Rigidity<tspan dx={16}>R{'\u0303'} [GV]</tspan>
      </text>
    </svg>
  );
}

export default function App() {
  return (
    <div style={{ position: 'absolute', left: 0, top: 0, width: 1080, height: 1379, background: BG, overflow: 'hidden' }}>
      <Panel series={SERIES_A} top={0} height={660} mTop={49} mBottom={9} xLabels={false} yLabels={Y_LABELS_A} />
      <Panel series={SERIES_B} top={640} height={739} mTop={10} mBottom={121} xLabels={true} yLabels={Y_LABELS_B} />
      <Overlay />
    </div>
  );
}
